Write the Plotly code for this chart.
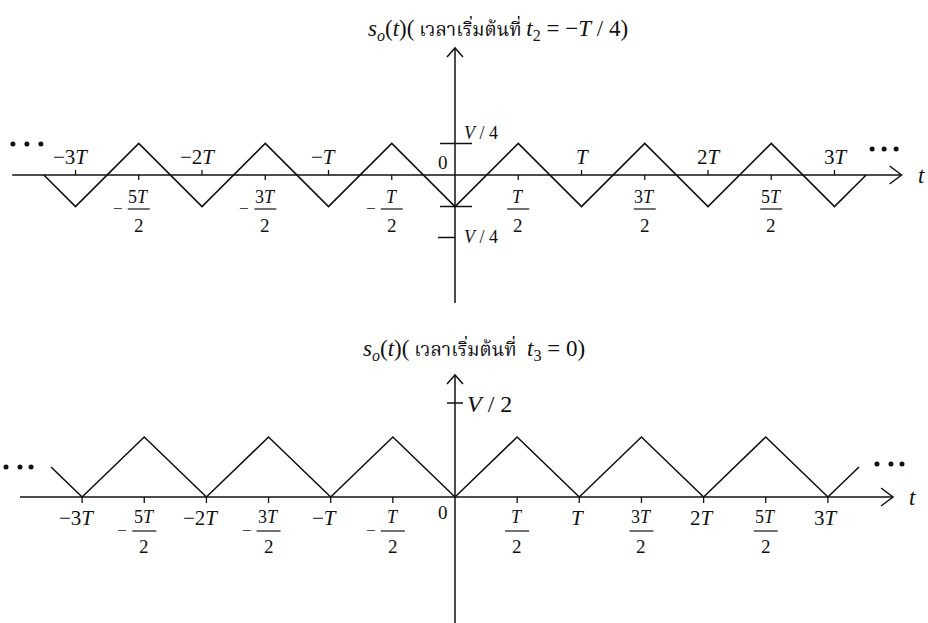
import plotly.graph_objects as go

# ---- data (time in units of T, amplitude in units of V) ----
top_t = [-3.25, -3, -2.5, -2, -1.5, -1, -0.5, 0, 0.5, 1, 1.5, 2, 2.5, 3, 3.25]
top_v = [0, -0.25, 0.25, -0.25, 0.25, -0.25, 0.25, -0.25, 0.25, -0.25, 0.25, -0.25, 0.25, -0.25, 0]

bot_t = [-3.25, -3, -2.5, -2, -1.5, -1, -0.5, 0, 0.5, 1, 1.5, 2, 2.5, 3, 3.25]
bot_v = [0.25, 0, 0.5, 0, 0.5, 0, 0.5, 0, 0.5, 0, 0.5, 0, 0.5, 0, 0.25]

int_ticks = [-3, -2, -1, 1, 2, 3]
int_labels = ["−3<i>T</i>", "−2<i>T</i>", "−<i>T</i>", "<i>T</i>", "2<i>T</i>", "3<i>T</i>"]
half_ticks = [-2.5, -1.5, -0.5, 0.5, 1.5, 2.5]
half_nums = ["5<i>T</i>", "3<i>T</i>", "<i>T</i>", "<i>T</i>", "3<i>T</i>", "5<i>T</i>"]
half_den = "2"

THAI = "<span style='font-size:19px'> เวลาเริ่มต้นที่ </span>"
top_title = ("<i>s</i><sub><i>o</i></sub>(<i>t</i>)(" + THAI +
             "<i>t</i><sub>2</sub> = −<i>T</i> / 4)")
bot_title = ("<i>s</i><sub><i>o</i></sub>(<i>t</i>)(" + THAI +
             " <i>t</i><sub>3</sub> = 0)")

W, H = 928, 623
SERIF = "'Liberation Serif', 'Times New Roman', 'Noto Serif Thai', 'Noto Sans Thai', serif"
INK = "#111111"

# panel geometry: origin pixel, pixels per T, pixels per V, pixel rows covered
panels = {
    "top": dict(ox=455, oy=175, tpx=126.5, vpx=126.0, r0=0, r1=310, xa="x", ya="y"),
    "bot": dict(ox=455, oy=497, tpx=124.3, vpx=120.0, r0=310, r1=623, xa="x2", ya="y2"),
}

fig = go.Figure()
shapes, notes = [], []


def axis_layout(p):
    xr = [(0 - p["ox"]) / p["tpx"], (W - p["ox"]) / p["tpx"]]
    yr = [(p["oy"] - p["r1"]) / p["vpx"], (p["oy"] - p["r0"]) / p["vpx"]]
    dom = [1 - p["r1"] / H, 1 - p["r0"] / H]
    return xr, yr, dom


def line(p, x0, y0, x1, y1, w=1.5):
    shapes.append(dict(type="line", xref=p["xa"], yref=p["ya"], x0=x0, y0=y0, x1=x1, y1=y1,
                       line=dict(color=INK, width=w)))


def pxline(p, xa, ya, x0, y0, x1, y1, w=1.5):
    # line given in pixel offsets around a data anchor
    shapes.append(dict(type="line", xref=p["xa"], yref=p["ya"], xsizemode="pixel", ysizemode="pixel",
                       xanchor=xa, yanchor=ya, x0=x0, y0=y0, x1=x1, y1=y1,
                       line=dict(color=INK, width=w)))


def pxpath(p, xa, ya, path, w=1.5):
    shapes.append(dict(type="path", xref=p["xa"], yref=p["ya"], xsizemode="pixel", ysizemode="pixel",
                       xanchor=xa, yanchor=ya, path=path, line=dict(color=INK, width=w)))


def dot(p, xa, ya, dx, dy, r=2.5):
    shapes.append(dict(type="circle", xref=p["xa"], yref=p["ya"], xsizemode="pixel", ysizemode="pixel",
                       xanchor=xa, yanchor=ya, x0=dx - r, x1=dx + r, y0=dy - r, y1=dy + r,
                       fillcolor=INK, line=dict(color=INK, width=0)))


def text(p, x, y, s, size=18, dx=0, dy=0, xanchor="center"):
    notes.append(dict(xref=p["xa"], yref=p["ya"], x=x, y=y, text=s, showarrow=False,
                      xshift=dx, yshift=dy, xanchor=xanchor, yanchor="middle",
                      font=dict(family=SERIF, size=size, color=INK)))


def fraction(p, x, num, neg, dn, dbar, dd, half=11):
    text(p, x, 0, num, size=18, dy=dn)
    text(p, x, 0, half_den, size=19, dy=dd)
    pxline(p, x, 0, -half, dbar, half, dbar, w=1.2)
    if neg:
        text(p, x, 0, "−", size=17, dx=-half - 10, dy=dbar + 1)


# ---------------- top panel ----------------
P = panels["top"]
fig.add_trace(go.Scatter(x=top_t, y=top_v, mode="lines", xaxis="x", yaxis="y",
                         line=dict(color=INK, width=1.6), hoverinfo="skip", showlegend=False))
# horizontal axis with open arrow head
line(P, -3.5, 0, 3.53, 0)
pxpath(P, 3.53, 0, "M -12 9 L 0 0 L -12 -9")
text(P, 3.53, 0, "<i>t</i>", size=23, dx=20)
# vertical axis with open arrow head
line(P, 0, -1.016, 0, 1.008)
pxpath(P, 0, 1.008, "M -8 -9 L 0 0 L 8 -9")
# amplitude marks
pxline(P, 0, 0.25, -15, 0, 17, 0)
pxline(P, 0, -0.25, -15, 0, 17, 0)
pxline(P, 0, -0.25, -17, -31, 0, -31)
text(P, 0, 0.25, "<i>V</i> / 4", size=18, dx=7, dy=11, xanchor="left")
text(P, 0, -0.25, "<i>V</i> / 4", size=18, dx=7, dy=-30, xanchor="left")
text(P, 0, 0, "0", size=19, dx=-12, dy=13)
for x, s in zip(int_ticks, int_labels):
    pxline(P, x, 0, 0, 0, 0, 5, w=1.3)
    text(P, x, 0, s, size=21, dx=(-5 if x < 0 else 1), dy=18)
for x, s in zip(half_ticks, half_nums):
    pxline(P, x, 0, 0, 0, 0, -5, w=1.3)
    fraction(P, x, s, x < 0, dn=-22, dbar=-34, dd=-50)
# continuation dots
for dx in (-31, -17, -3):
    dot(P, top_t[0], 0, dx, 31)
for dx in (6, 18, 30):
    dot(P, top_t[-1], 0, dx, 26)
text(P, 0, 1.008, top_title, size=23, dx=43, dy=18)

# ---------------- bottom panel ----------------
P = panels["bot"]
fig.add_trace(go.Scatter(x=bot_t, y=bot_v, mode="lines", xaxis="x2", yaxis="y2",
                         line=dict(color=INK, width=1.6), hoverinfo="skip", showlegend=False))
line(P, -3.5, 0, 3.524, 0)
pxpath(P, 3.524, 0, "M -12 9 L 0 0 L -12 -9")
text(P, 3.524, 0, "<i>t</i>", size=23, dx=19)
line(P, 0, -1.06, 0, 1.017)
pxpath(P, 0, 1.017, "M -8 -9 L 0 0 L 8 -9")
pxline(P, 0, 0.5, -8, 34, 8, 34)
text(P, 0, 0.5, "<i>V</i> / 2", size=24, dx=10, dy=33, xanchor="left")
text(P, 0, 0, "0", size=19, dx=-12, dy=-15)
for x, s in zip(int_ticks, int_labels):
    pxline(P, x, 0, 0, 0, 0, -6, w=1.3)
    text(P, x, 0, s, size=21, dx=(-6 if x < 0 else -2), dy=-21)
for x, s in zip(half_ticks, half_nums):
    pxline(P, x, 0, 0, 0, 0, -6, w=1.3)
    fraction(P, x, s, x < 0, dn=-20, dbar=-34, dd=-49, half=12)
for dx in (-45, -31, -20):
    dot(P, bot_t[0], bot_v[0], dx, 0)
for dx in (18, 32, 43):
    dot(P, bot_t[-1], bot_v[-1], dx, 3)
text(P, 0, 1.017, bot_title, size=23, dx=19, dy=25)

# ---------------- layout ----------------
lay = dict(width=W, height=H, autosize=False, margin=dict(l=0, r=0, t=0, b=0),
           paper_bgcolor="white", plot_bgcolor="white", showlegend=False,
           shapes=shapes, annotations=notes)
for key, p in panels.items():
    xr, yr, dom = axis_layout(p)
    xn = "xaxis" if p["xa"] == "x" else "xaxis2"
    yn = "yaxis" if p["ya"] == "y" else "yaxis2"
    lay[xn] = dict(range=xr, domain=[0, 1], visible=False, fixedrange=True,
                   anchor=p["ya"])
    lay[yn] = dict(range=yr, domain=dom, visible=False, fixedrange=True,
                   anchor=p["xa"])
fig.update_layout(**lay)
fig.write_html("out.html")
